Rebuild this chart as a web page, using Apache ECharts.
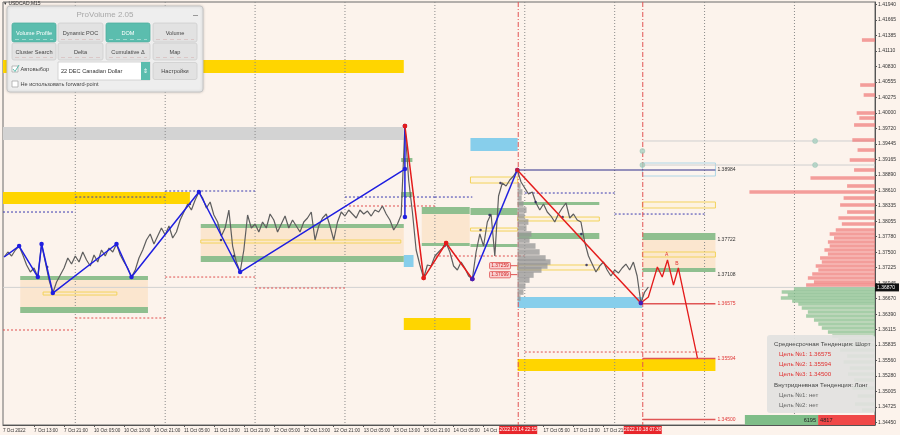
<!DOCTYPE html>
<html><head><meta charset="utf-8">
<script src="https://cdn.jsdelivr.net/npm/echarts@6/dist/echarts.min.js"></script>
<style>html,body{margin:0;padding:0;background:#FCF3EC}#c{width:900px;height:435px}</style>
</head><body><div id="c"></div>
<script>
// ---------- DATA ----------
// hourly closes, trading hours counted from 7 Oct 2022 00:00 (weekend removed); first value = hour 5
const priceStartHour = 5;
const prices = [
1.37415,1.37505,1.37433,1.37541,1.37612, 1.37451,1.37272,1.37146,1.37218,1.37056,
1.37648,1.37325,1.37002,1.36769,1.36967, 1.37092,1.37218,1.37397,1.37289,1.37433,
1.37325,1.37505,1.37361,1.37254,1.37451, 1.37325,1.37541,1.37433,1.37576,1.37505,
1.37648,1.37451,1.37325,1.37218,1.37056, 1.37182,1.37397,1.37541,1.37720,1.37828,
1.37648,1.37792,1.37935,1.37810,1.37971, 1.37756,1.37863,1.38079,1.38222,1.38366,
1.38258,1.38437,1.38581,1.38473,1.38294, 1.38402,1.38168,1.38043,1.37792,1.37935,
1.38258,1.37612,1.37325,1.37146,1.37541, 1.38168,1.37935,1.38007,1.37863,1.38043,
1.37935,1.38186,1.38079,1.37863,1.38007, 1.38150,1.37935,1.38079,1.37971,1.37863,
1.38043,1.38115,1.38222,1.37720,1.37971, 1.38115,1.38186,1.37971,1.37720,1.38043,
1.38222,1.38150,1.38258,1.38186,1.38115, 1.38258,1.38186,1.38240,1.38150,1.38258,
1.38222,1.38330,1.38186,1.38079,1.37899, 1.38007,1.38168,1.39765,1.38796,1.38222,
1.37541,1.37272,1.37038,1.37272,1.37254, 1.37433,1.37505,1.37576,1.37666,1.37505,
1.37254,1.37182,1.37325,1.37218,1.37074, 1.37020,1.37505,1.37828,1.37612,1.38043,
1.38186,1.37433,1.38509,1.38742,1.38689, 1.38796,1.38868,1.38976,1.38760,1.38653,
1.38545,1.38581,1.38384,1.38258,1.38366, 1.38222,1.38150,1.38043,1.38186,1.38294,
1.38384,1.38115,1.38186,1.38079,1.38043, 1.37684,1.37433,1.37289,1.37146,1.37254,
1.37325,1.37182,1.37074,1.37182,1.37128, 1.37218,1.37289,1.37182,1.37325,1.37074,
1.36590,1.36787,1.36877
];
const blueZigzag = [[5,1.37415],[9,1.37612],[14,1.37056],[15,1.37648],[18,1.36769],[35,1.37648],[39,1.37056],[57,1.38581],[68,1.37146],[112,1.38993]];
const blueSpike = [[112,1.39765],[112,1.38132]];
const redZigzag = [[112,1.39765],[117,1.37038],[123,1.37666],[130,1.37020]];
const blueLeg = [[130,1.37020],[142,1.38976]];
const redLeg = [[142,1.38976],[175,1.36590]];
const forecast = [[175,1.36590],[177,1.36698],[179.4,1.37236],[180.7,1.37056],[182.1,1.37361],[183.7,1.36913],[185,1.37218],[190.1,1.35603]];
const fractalDots = [[16.5,1.37236],[54.6,1.38366],[62.9,1.37720],[66.3,1.37433],[122.6,1.37612],[132.2,1.37899],[134.6,1.38168],[137.5,1.38742],[146.9,1.38402],[154.1,1.38132],[159.1,1.37828],[160.5,1.37272]];
const tealDots = [[175.4,1.39316],[175.4,1.39065],[221.5,1.39496],[221.5,1.39065]];

// zones [fromHour, toHour, priceA, priceB]
const goldZones = [[4.7,111.7,1.40949,1.40715],[4.7,54.6,1.38581,1.38366],[111.7,129.5,1.36321,1.36106],[142.1,194.9,1.35585,1.35370]];
const grayZones = [[4.7,111.7,1.39747,1.39514]];
const blueZones = [[129.5,142.1,1.39550,1.39316],[142.1,175.4,1.36698,1.36500],[111.7,114.3,1.37451,1.37236]];
const peachZones = [[9.3,43.4,1.37020,1.36518],[57.5,111.7,1.37953,1.37433],[116.5,129.3,1.38186,1.37666],[175.4,194.9,1.37720,1.37218]];
const greenZones = [[9.3,43.4,1.37074,1.37002],[9.3,43.4,1.36518,1.36410],[57.5,111.7,1.38007,1.37935],[57.5,111.7,1.37433,1.37325],
  [116.5,129.3,1.38312,1.38186],[116.5,129.3,1.37666,1.37612],[129.5,142.1,1.38294,1.38168],[129.5,142.1,1.37648,1.37594],
  [142.1,163.9,1.38402,1.38348],[142.1,163.9,1.37846,1.37738],[175.4,194.9,1.37846,1.37720],[175.4,194.9,1.37218,1.37146],
  [111.0,114.0,1.39191,1.39119],[111.0,114.0,1.38581,1.38491]];
const yellowOutlineZones = [[15.4,35.1,1.36787,1.36733],[57.5,110.9,1.37720,1.37666],[129.5,142.1,1.38850,1.38742],[129.5,142.1,1.37935,1.37881],
  [142.1,163.9,1.38132,1.38061],[142.1,163.9,1.37272,1.37182],[175.4,194.9,1.38402,1.38294],[175.4,194.9,1.37505,1.37415]];
const blueOutlineZones = [[175.4,194.9,1.39101,1.38868]];

// horizontal segments [fromHour, toHour, price]
const navyDotRows = [[4.7,24,1.38222],[24,48,1.38491],[48,72,1.38599],[96,120,1.38491],[120,130,1.38491],[144,168,1.38563],[168,192,1.38186]];
const redDotRows = [[4.7,24,1.36106],[24,48,1.36321],[48,72,1.37056],[72,96,1.36859],[96,120,1.38330],[120,144,1.37433],[144,192,1.35711]];
const grayLineRows = [[175.4,237.5,1.39496],[175.4,237.5,1.39065]];
const currentPrice = 1.36870;
const levelRows = [[142,194.9,1.38976],[175.4,194.9,1.36575],[175.4,194.9,1.35594],[175.4,194.9,1.34500]];
const levelLabels = ['1.38984','1.36575','1.35594','1.34500'];
const boxLevelPrices = [1.37722,1.37108];
const boxLevelLabels = ['1.37722','1.37108'];
const tagPrices = [1.37259,1.37099];
const tagLabels = ['1.37259','1.37099'];
const dayStarts = [24,48,72,96,120,144,168,192,216];
const eventHours = [142.25,175.5];
const eventLabels = ['2022.10.14 22:15','2022.10.18 07:30'];

// volume profiles
const grayProfilePrices = [1.38689,1.38581,1.38473,1.38366,1.38258,1.38150,1.38043,1.37935,1.37828,1.37720,1.37612,1.37505,1.37397,1.37325,1.37254,1.37182,1.37092,1.37002,1.36895,1.36787,1.36680];
const grayProfileHours  = [0.8,1.3,1.1,1.6,2.4,1.9,2.9,2.4,3.7,3.2,4.8,5.9,7.5,8.8,8.0,6.4,4.3,3.2,2.1,1.6,0.8];
const volProfilePrices = [1.41307,1.40500,1.40321,1.39998,1.39908,1.39783,1.39514,1.39334,1.39155,1.38976,1.38832,1.38689,1.38581,1.38473,1.38348,1.38222,1.38115,1.38007,1.37899,1.37828,1.37756,1.37684,1.37612,1.37541,1.37469,1.37397,1.37325,1.37254,1.37182,1.37110,1.37038,1.36967,1.36913,
  1.36841,1.36787,1.36733,1.36680,1.36626,1.36572,1.36500,1.36428,1.36357,1.36285,1.36213,1.36141,1.36070,1.35998,1.35926,1.35836,1.35747,1.35639,1.35532,1.35424,1.35316,1.35209,1.35065,1.34922,1.34778,1.34671];
const volProfileVolumes = [1.5,1.7,1.3,2.1,1.8,2.4,2.6,2.0,2.9,2.4,7.4,3.2,14.4,3.6,4.0,3.2,4.2,3.8,4.5,5.2,4.7,5.4,5.2,5.8,5.4,6.3,6.1,6.8,6.5,7.2,7.7,7.0,7.9,
  9.3,10.7,10.0,10.8,9.5,8.8,8.4,7.7,7.9,7.0,6.5,6.1,5.4,4.9,4.2,3.8,4.0,3.2,3.6,2.9,3.1,2.4,2.6,2.0,2.3,1.5];
const buyTotal = 6195, sellTotal = 4817;

// axis ticks
const xTickHours = [13,21,29,37,45,53,61,69,77,85,93,101,109,117,125,133,141,149,157,165,173];
const xLabelHours = [4.7,13,21,29,37,45,53,61,69,77,85,93,101,109,117,125,133,149,157,165];
const xLabelTexts = ['7 Oct 2022','7 Oct 13:00','7 Oct 21:00','10 Oct 05:00','10 Oct 13:00','10 Oct 21:00','11 Oct 05:00','11 Oct 13:00','11 Oct 21:00','12 Oct 05:00','12 Oct 13:00','12 Oct 21:00','13 Oct 05:00','13 Oct 13:00','13 Oct 21:00','14 Oct 05:00','14 Oct 13:00','17 Oct 05:00','17 Oct 13:00','17 Oct 21:00'];
const yTickValues = [1.34450,1.34725,1.35005,1.35280,1.35560,1.35835,1.36115,1.36390,1.36670,1.36945,1.37225,1.37500,1.37780,1.38055,1.38335,1.38610,1.38890,1.39165,1.39445,1.39720,1.40000,1.40275,1.40555,1.40830,1.41110,1.41385,1.41665,1.41940];
const yTickLabels = yTickValues.map(v => v.toFixed(5));

// ---------- CHART ----------
const FONT = 'Liberation Sans, Arial, sans-serif';
const chart = echarts.init(document.getElementById('c'));
const pricePairs = prices.map((p, i) => [priceStartHour + i, p]);

function rectSeries(rows, style, z) {
  return { type:'custom', xAxisIndex:0, yAxisIndex:0, z, silent:true, data:rows, encode:{x:[0,1], y:[2,3]},
    renderItem:(params, api) => {
      const a = api.coord([api.value(0), api.value(2)]);
      const b = api.coord([api.value(1), api.value(3)]);
      return {type:'rect', shape:{x:Math.min(a[0],b[0]), y:Math.min(a[1],b[1]), width:Math.abs(b[0]-a[0]), height:Math.max(1,Math.abs(b[1]-a[1]))}, style};
    }};
}
function hLineSeries(rows, color, dash, width, z, labels, labelColor) {
  return { type:'custom', xAxisIndex:0, yAxisIndex:0, z, silent:true, data:rows, encode:{x:[0,1], y:2},
    renderItem:(params, api) => {
      const a = api.coord([api.value(0), api.value(2)]);
      const b = api.coord([api.value(1), api.value(2)]);
      const ch = [];
      if (width > 0) ch.push({type:'line', shape:{x1:a[0], y1:a[1], x2:b[0], y2:b[1]}, style:{stroke:color, lineWidth:width, lineDash:dash}});
      if (labels) ch.push({type:'text', x:b[0]+2, y:b[1], style:{text:labels[params.dataIndex], fill:labelColor, fontSize:5, verticalAlign:'middle', fontFamily:FONT}});
      return {type:'group', children:ch};
    }};
}
function vLineSeries(hours, color, dash, z) {
  return { type:'custom', xAxisIndex:0, yAxisIndex:0, z, silent:true, data:hours.map(h => [h]), encode:{x:0},
    renderItem:(params, api) => {
      const x = api.coord([api.value(0), 1.38])[0];
      const cs = params.coordSys;
      return {type:'line', shape:{x1:x, y1:cs.y, x2:x, y2:cs.y+cs.height}, style:{stroke:color, lineWidth:1, lineDash:dash}};
    }};
}
function zig(data, color, dotFirst, z) {
  return { type:'line', xAxisIndex:0, yAxisIndex:0, z, silent:true,
    data: data.map((d, i) => (i === 0 && !dotFirst) ? {value:d, symbol:'none'} : d),
    symbol:'circle', symbolSize:4.5, showSymbol:true,
    lineStyle:{color, width:1.5}, itemStyle:{color} };
}

const series = [
  rectSeries(goldZones, {fill:'#FFD500'}, 1),
  rectSeries(grayZones, {fill:'#D3D3D3'}, 1),
  rectSeries(peachZones, {fill:'#FBE6CF'}, 1),
  rectSeries(blueZones, {fill:'#87CEEB'}, 2),
  rectSeries(greenZones, {fill:'#8FBF8F'}, 2),
  rectSeries(yellowOutlineZones, {fill:'rgba(255,240,190,0.25)', stroke:'#F3D35C', lineWidth:1}, 2),
  rectSeries(blueOutlineZones, {fill:'rgba(255,255,255,0.2)', stroke:'#AED6E6', lineWidth:1}, 2),
  vLineSeries(dayStarts, '#8A8A8A', [1,2], 1),
  vLineSeries(eventHours, '#E25252', [5,2,1,2], 3),
  hLineSeries([[4.7,237.5,currentPrice]], '#D2D2D2', null, 1, 1),
  hLineSeries(navyDotRows, '#3A3AB0', [2,2], 1, 2),
  hLineSeries(redDotRows, '#E05050', [2,2], 1, 2),
  hLineSeries(grayLineRows, '#CFCFCF', null, 1, 2),
  hLineSeries(levelRows.slice(0,1), '#2E2E8A', null, 1.2, 4, levelLabels.slice(0,1), '#333'),
  hLineSeries(levelRows.slice(1), '#E05555', null, 1.5, 4, levelLabels.slice(1), '#E03838'),
  hLineSeries(boxLevelPrices.map(p => [194.9,194.9,p]), '#000', null, 0, 4, boxLevelLabels, '#333'),
  // gray volume profile of the last session
  { type:'custom', xAxisIndex:0, yAxisIndex:0, z:3, silent:true,
    data: grayProfilePrices.map((p, i) => [grayProfileHours[i], p]), encode:{x:0, y:1},
    renderItem:(params, api) => {
      const a = api.coord([142.07, api.value(1)]);
      const b = api.coord([142.07 + api.value(0), api.value(1)]);
      return {type:'rect', shape:{x:a[0], y:a[1]-2.8, width:b[0]-a[0], height:5.6}, style:{fill:'rgba(150,150,150,0.75)'}};
    }},
  // right volume profile
  { type:'custom', xAxisIndex:1, yAxisIndex:0, z:3, silent:true,
    data: volProfilePrices.map((p, i) => [volProfileVolumes[i], p]), encode:{x:0, y:1},
    renderItem:(params, api) => {
      const p = api.value(1);
      const a = api.coord([0, p]);
      const b = api.coord([api.value(0), p]);
      return {type:'rect', shape:{x:b[0], y:a[1]-1.8, width:a[0]-b[0], height:3.6},
        style:{fill: p > currentPrice ? 'rgba(240,120,120,0.7)' : 'rgba(130,190,140,0.7)'}};
    }},
  // price
  { type:'line', xAxisIndex:0, yAxisIndex:0, z:5, silent:true, data:pricePairs, showSymbol:false,
    lineStyle:{color:'#5E5E5E', width:1.2} },
  { type:'scatter', xAxisIndex:0, yAxisIndex:0, z:6, silent:true, data:fractalDots, symbolSize:2.5, itemStyle:{color:'#1E1E5A'} },
  zig(blueZigzag, '#1F1FE0', false, 7),
  zig(blueSpike, '#1F1FE0', true, 7),
  zig(blueLeg, '#1F1FE0', true, 7),
  zig(redZigzag, '#E41B1B', true, 8),
  zig(redLeg, '#E41B1B', false, 8),
  { type:'line', xAxisIndex:0, yAxisIndex:0, z:8, silent:true, data:forecast, showSymbol:false, lineStyle:{color:'#E41B1B', width:1.3} },
  { type:'scatter', xAxisIndex:0, yAxisIndex:0, z:9, silent:true, data:[redZigzag[0],redZigzag[1],redZigzag[2],redLeg[0]], symbolSize:4.5, itemStyle:{color:'#E41B1B'} },
  { type:'scatter', xAxisIndex:0, yAxisIndex:0, z:9, silent:true, data:[blueLeg[0], redLeg[1]], symbolSize:4.5, itemStyle:{color:'#1F1FE0'} },
  { type:'scatter', xAxisIndex:0, yAxisIndex:0, z:4, silent:true, data:tealDots, symbolSize:5, itemStyle:{color:'#A9CFC1', borderColor:'#8DBDAE', borderWidth:0.5} },
  // A / B marks on forecast
  { type:'custom', xAxisIndex:0, yAxisIndex:0, z:9, silent:true, data:[[181.9,1.37460],[184.6,1.37300]], encode:{x:0,y:1},
    renderItem:(params, api) => {
      const c = api.coord([api.value(0), api.value(1)]);
      return {type:'text', x:c[0], y:c[1], style:{text:['A','B'][params.dataIndex], fill:'#E03030', fontSize:5, align:'center', verticalAlign:'middle', fontFamily:FONT}};
    }},
  // price tags
  { type:'custom', xAxisIndex:0, yAxisIndex:0, z:9, silent:true, data:tagPrices.map(p => [140.2, p]), encode:{x:0,y:1},
    renderItem:(params, api) => {
      const c = api.coord([api.value(0), api.value(1)]);
      const e = api.coord([142, api.value(1)]);
      return {type:'group', children:[
        {type:'line', shape:{x1:c[0], y1:c[1], x2:e[0], y2:c[1]}, style:{stroke:'#E05050', lineWidth:1}},
        {type:'rect', shape:{x:c[0]-21, y:c[1]-3.2, width:21, height:6.4, r:1}, style:{fill:'#F9D0D0', stroke:'#E05050', lineWidth:0.8}},
        {type:'text', x:c[0]-10.5, y:c[1], style:{text:tagLabels[params.dataIndex], fill:'#D02020', fontSize:4.8, align:'center', verticalAlign:'middle', fontFamily:FONT}}
      ]};
    }},
  // totals bar
  { type:'custom', xAxisIndex:2, yAxisIndex:0, z:10, silent:true, data:[[0, sellTotal],[sellTotal, sellTotal + buyTotal]], encode:{x:[0,1]},
    renderItem:(params, api) => {
      const a = api.coord([api.value(0), 1.35])[0];
      const b = api.coord([api.value(1), 1.35])[0];
      const cs = params.coordSys;
      const isSell = params.dataIndex === 0;
      return {type:'group', children:[
        {type:'rect', shape:{x:b, y:cs.y+cs.height-10, width:a-b, height:10}, style:{fill:isSell ? '#F04848' : '#7FBD88'}},
        {type:'text', x:isSell ? b+2 : a-2, y:cs.y+cs.height-5, style:{text:String(isSell ? sellTotal : buyTotal), fill:'#222', fontSize:5.6, align:isSell ? 'left' : 'right', verticalAlign:'middle', fontFamily:FONT}}
      ]};
    }}
];

chart.setOption({
  animation:false,
  backgroundColor:'#FCF3EC',
  grid:{left:2, right:25, top:2, bottom:10, show:true, borderColor:'#6A6A6A', borderWidth:1},
  xAxis:[
    { type:'value', min:4.7, max:237.5,
      axisLine:{show:true, onZero:false, lineStyle:{color:'#555'}},
      axisTick:{show:true, customValues:xTickHours, length:2, lineStyle:{color:'#555'}},
      axisLabel:{show:true, customValues:xLabelHours, fontSize:4.6, color:'#333', align:'left', margin:3, fontFamily:FONT,
        formatter:(v) => { const i = xLabelHours.findIndex(h => Math.abs(h - v) < 0.01); return i >= 0 ? xLabelTexts[i] : ''; }},
      splitLine:{show:false} },
    { type:'value', min:0, max:100, inverse:true, show:false },
    { type:'value', min:0, max:73800, inverse:true, show:false }
  ],
  yAxis:[
    { type:'value', min:1.34402, max:1.41989, position:'right',
      axisLine:{show:true, onZero:false, lineStyle:{color:'#555'}},
      axisTick:{show:true, customValues:yTickValues, length:2, lineStyle:{color:'#555'}},
      axisLabel:{show:true, customValues:yTickValues, fontSize:5, color:'#333', margin:3, fontFamily:FONT,
        formatter:(v) => { const i = yTickValues.findIndex(t => Math.abs(t - v) < 1e-7); return i >= 0 ? yTickLabels[i] : v.toFixed(5); }},
      splitLine:{show:false} }
  ],
  series
});

// ---------- overlays (panels & axis tags) ----------
const teal = '#5BBDAE';
const px = t => chart.convertToPixel({xAxisIndex:0}, t);
const py = p => chart.convertToPixel({yAxisIndex:0}, p);
const btns = [
  ['Volume Profile',12,23,44,19,true],['Dynamic POC',58,23,45,19,false],['DOM',106,23,44,19,true],['Volume',153,23,44,19,false],
  ['Cluster Search',12,43,44,17,false],['Delta',58,43,45,17,false],['Cumulative Δ',106,43,44,17,false],['Map',153,43,44,17,false]
];
const panel = [
  {type:'rect', shape:{x:7,y:6,width:196,height:86,r:3}, style:{fill:'#EEEEEE', stroke:'#C6C6C6', lineWidth:1, shadowBlur:3, shadowColor:'rgba(0,0,0,0.18)'}},
  {type:'text', x:105, y:14.5, style:{text:'ProVolume 2.05', fill:'#A8A8A8', fontSize:8, align:'center', verticalAlign:'middle', fontFamily:FONT}},
  {type:'rect', shape:{x:193,y:15,width:5,height:1}, style:{fill:'#999'}}
];
btns.forEach(b => {
  panel.push({type:'rect', shape:{x:b[1], y:b[2], width:b[3], height:b[4], r:2}, style:{fill:b[5] ? teal : '#E2E2E2', stroke:b[5] ? '#4FAE9F' : '#CECECE', lineWidth:0.8}});
  panel.push({type:'text', x:b[1]+b[3]/2, y:b[2]+b[4]/2+0.5, style:{text:b[0], fill:b[5] ? '#FFFFFF' : '#444', fontSize:5.6, align:'center', verticalAlign:'middle', fontFamily:FONT}});
  panel.push({type:'line', shape:{x1:b[1]+3, y1:b[2]+b[4]-2.5, x2:b[1]+b[3]-3, y2:b[2]+b[4]-2.5}, style:{stroke:b[5] ? 'rgba(255,255,255,0.5)' : '#D8C0C0', lineWidth:0.8, lineDash:[4,3]}});
});
panel.push(
  {type:'rect', shape:{x:12,y:66,width:6,height:6}, style:{fill:'#FFF', stroke:'#AAA', lineWidth:0.8}},
  {type:'polyline', shape:{points:[[13,69],[15,71.5],[19,65]]}, style:{stroke:teal, lineWidth:1, fill:null}},
  {type:'text', x:20.5, y:69.5, style:{text:'Автовыбор', fill:'#444', fontSize:5.6, verticalAlign:'middle', fontFamily:FONT}},
  {type:'rect', shape:{x:58,y:62,width:92,height:18}, style:{fill:'#FFFFFF', stroke:'#CCCCCC', lineWidth:0.8}},
  {type:'text', x:61, y:71, style:{text:'22 DEC Canadian Dollar', fill:'#333', fontSize:5.6, verticalAlign:'middle', fontFamily:FONT}},
  {type:'rect', shape:{x:141,y:62,width:9,height:18}, style:{fill:teal}},
  {type:'text', x:145.5, y:71, style:{text:'⇕', fill:'#FFF', fontSize:6, align:'center', verticalAlign:'middle', fontFamily:'DejaVu Sans'}},
  {type:'rect', shape:{x:153,y:62.5,width:44,height:17,r:2}, style:{fill:'#E2E2E2', stroke:'#CECECE', lineWidth:0.8}},
  {type:'text', x:175, y:71, style:{text:'Настройки', fill:'#444', fontSize:5.6, align:'center', verticalAlign:'middle', fontFamily:FONT}},
  {type:'rect', shape:{x:12,y:81,width:6,height:6}, style:{fill:'#FFF', stroke:'#AAA', lineWidth:0.8}},
  {type:'text', x:20.5, y:84, style:{text:'Не использовать forward-point', fill:'#444', fontSize:5.6, verticalAlign:'middle', fontFamily:FONT}}
);
const info = [
  {type:'rect', shape:{x:767,y:335,width:108,height:78,r:3}, style:{fill:'rgba(226,226,224,0.92)'}},
  {type:'text', x:774, y:344.5, style:{text:'Среднесрочная Тенденция: Шорт', fill:'#444', fontSize:6.2, verticalAlign:'middle', fontFamily:FONT}},
  {type:'text', x:779, y:354, style:{text:'Цель №1: 1.36575', fill:'#E03030', fontSize:6.2, verticalAlign:'middle', fontFamily:FONT}},
  {type:'text', x:779, y:364, style:{text:'Цель №2: 1.35594', fill:'#E03030', fontSize:6.2, verticalAlign:'middle', fontFamily:FONT}},
  {type:'text', x:779, y:374, style:{text:'Цель №3: 1.34500', fill:'#E03030', fontSize:6.2, verticalAlign:'middle', fontFamily:FONT}},
  {type:'text', x:774, y:385.5, style:{text:'Внутридневная Тенденция: Лонг', fill:'#444', fontSize:6.2, verticalAlign:'middle', fontFamily:FONT}},
  {type:'text', x:779, y:395.5, style:{text:'Цель №1: нет', fill:'#666', fontSize:6.2, verticalAlign:'middle', fontFamily:FONT}},
  {type:'text', x:779, y:405.5, style:{text:'Цель №2: нет', fill:'#666', fontSize:6.2, verticalAlign:'middle', fontFamily:FONT}}
];
const tags = [];
eventHours.forEach((h, i) => {
  const x = px(h);
  tags.push({type:'rect', shape:{x:x-19, y:426, width:38, height:8}, style:{fill:'#E8262B'}});
  tags.push({type:'text', x:x, y:430, style:{text:eventLabels[i], fill:'#FFF', fontSize:4.8, align:'center', verticalAlign:'middle', fontFamily:FONT}});
});
const cy = py(currentPrice);
tags.push({type:'rect', shape:{x:875, y:cy-4, width:24, height:8}, style:{fill:'#111'}});
tags.push({type:'text', x:877, y:cy, style:{text:currentPrice.toFixed(5), fill:'#FFF', fontSize:5, verticalAlign:'middle', fontFamily:FONT}});

const onTop = (els, z) => els.map((e, i) => Object.assign({}, e, {z: z + i * 0.001, zlevel: 1}));
chart.setOption({graphic:[
  {type:'text', x:4, y:3.5, z:50, zlevel:1, style:{text:'▾ USDCAD,M15', fill:'#333', fontSize:5, verticalAlign:'middle', fontFamily:FONT}}
].concat(onTop(panel, 100), onTop(info, 100), onTop(tags, 100))});
</script>
</body></html>
